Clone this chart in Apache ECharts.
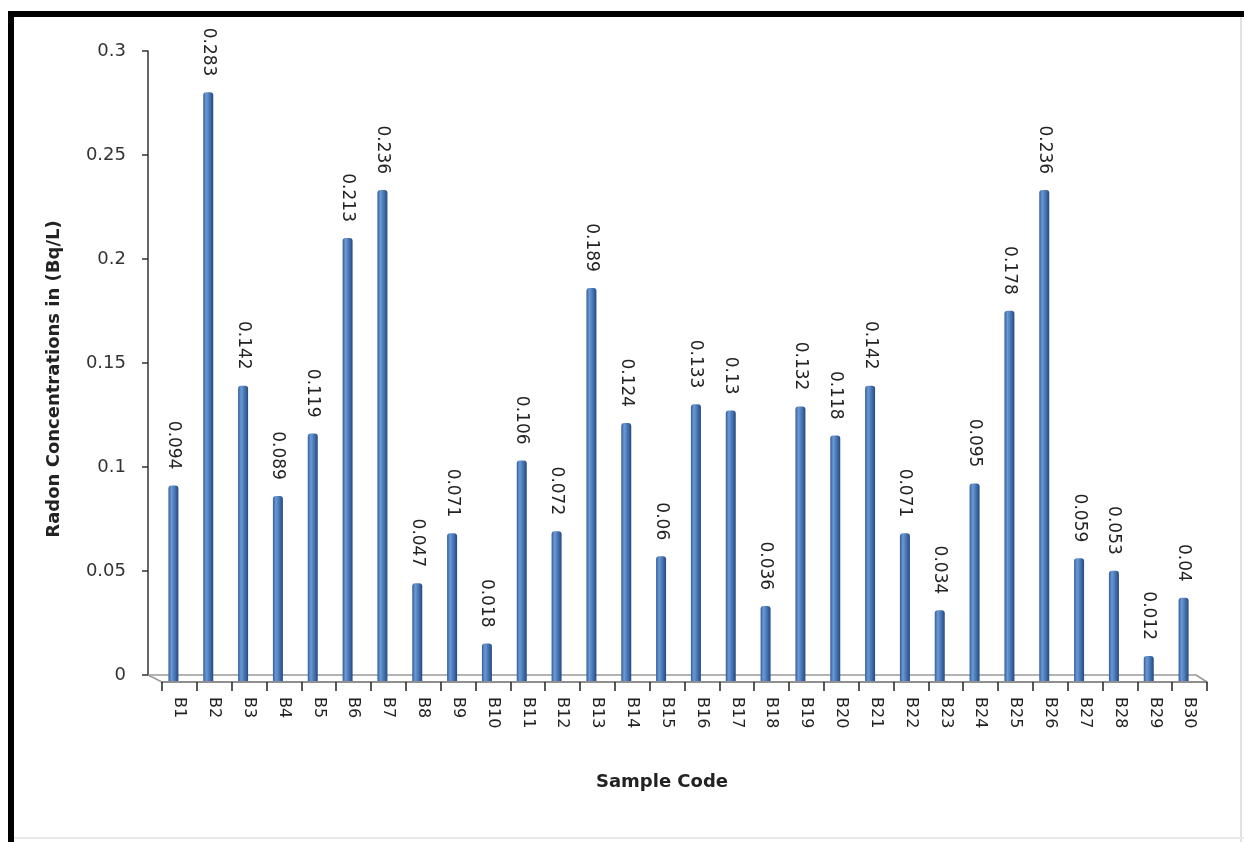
<!DOCTYPE html>
<html>
<head>
<meta charset="utf-8">
<script src="https://cdn.jsdelivr.net/npm/echarts@6/dist/echarts.min.js"></script>
<style>
html,body{margin:0;padding:0;background:#fff;}
#c{width:1244px;height:842px;}
</style>
</head>
<body>
<div id="c"></div>
<script>
const categories = ['B1','B2','B3','B4','B5','B6','B7','B8','B9','B10','B11','B12','B13','B14','B15','B16','B17','B18','B19','B20','B21','B22','B23','B24','B25','B26','B27','B28','B29','B30'];
const radonValues = [0.094,0.283,0.142,0.089,0.119,0.213,0.236,0.047,0.071,0.018,0.106,0.072,0.189,0.124,0.06,0.133,0.13,0.036,0.132,0.118,0.142,0.071,0.034,0.095,0.178,0.236,0.059,0.053,0.012,0.04];
const yTicks = { min: 0, max: 0.3, interval: 0.05 };
const yTitle = 'Radon Concentrations in (Bq/L)';
const xTitle = 'Sample Code';

const W = 1244, H = 842;
// back plane (visible y axis)
const backL = 148, backR = 1196, backTop = 51, backBottom = 675;
// bar plane (mid depth)
const barL = 156, barR = 1201, barTop = 57, barBottom = 681;
// front edge of floor
const frontL = 162, frontR = 1207, frontY = 682;

const FONT = 'DejaVu Sans';
const floorColor = '#9a9a9a';

const chart = echarts.init(document.getElementById('c'), null, {renderer: 'canvas'});
const option = {
  animation: false,
  backgroundColor: '#ffffff',
  textStyle: { fontFamily: FONT },
  grid: [
    { left: backL, right: W - backR, top: backTop, bottom: H - backBottom },
    { left: barL, right: W - barR, top: barTop, bottom: H - barBottom },
    { left: frontL, right: W - frontR, top: backTop, bottom: H - frontY }
  ],
  xAxis: [
    { gridIndex: 0, type: 'category', data: categories,
      axisLine: { show: true, lineStyle: { color: floorColor, width: 1.5 } },
      axisTick: { show: false }, axisLabel: { show: false }, splitLine: { show: false } },
    { gridIndex: 1, type: 'category', data: categories, show: false },
    { gridIndex: 2, type: 'category', data: categories,
      axisLine: { show: true, lineStyle: { color: '#6b6b6b', width: 1.5 } },
      axisTick: { show: true, length: 9, lineStyle: { color: '#222', width: 1.5 } },
      axisLabel: { show: true, rotate: -90, margin: 15, fontSize: 16, color: '#222', fontFamily: FONT, interval: 0 } }
  ],
  yAxis: [
    { gridIndex: 0, type: 'value', min: yTicks.min, max: yTicks.max, interval: yTicks.interval,
      axisLine: { show: true, lineStyle: { color: '#333', width: 1.5 } },
      axisTick: { show: true, length: 6, lineStyle: { color: '#333', width: 1.5 } },
      axisLabel: { margin: 22, fontSize: 18, color: '#333', fontFamily: FONT,
        formatter: v => String(+v.toFixed(2)) },
      splitLine: { show: false } },
    { gridIndex: 1, type: 'value', min: yTicks.min, max: yTicks.max, interval: yTicks.interval, show: false, splitLine: { show: false } },
    { gridIndex: 2, type: 'value', min: yTicks.min, max: yTicks.max, show: false, splitLine: { show: false } }
  ],
  series: [{
    type: 'bar',
    xAxisIndex: 1, yAxisIndex: 1,
    data: radonValues,
    barWidth: 10,
    itemStyle: {
      borderRadius: [3, 3, 0, 0],
      color: new echarts.graphic.LinearGradient(0, 0, 1, 0, [
        { offset: 0, color: '#355d98' },
        { offset: 0.3, color: '#6b99d4' },
        { offset: 0.65, color: '#4473b3' },
        { offset: 1, color: '#27487c' }
      ])
    },
    label: {
      show: true, position: 'top', distance: 16, rotate: -90,
      align: 'right', verticalAlign: 'middle',
      fontSize: 17, color: '#222', fontFamily: FONT,
      formatter: p => String(p.value)
    }
  }],
  graphic: [
    // frame
    { type: 'rect', shape: { x: 8, y: 11, width: W - 8, height: 6 }, style: { fill: '#000' }, silent: true },
    { type: 'rect', shape: { x: 8, y: 11, width: 6, height: H - 11 }, style: { fill: '#000' }, silent: true },
    { type: 'line', shape: { x1: W - 3, y1: 17, x2: W - 3, y2: H }, style: { stroke: '#e2e2e2', lineWidth: 2 }, silent: true },
    { type: 'line', shape: { x1: 14, y1: H - 4, x2: W, y2: H - 4 }, style: { stroke: '#e8e8e8', lineWidth: 2 }, silent: true },
    // floor sides
    { type: 'line', shape: { x1: backL, y1: backBottom, x2: frontL, y2: frontY }, style: { stroke: floorColor, lineWidth: 1.5 }, silent: true },
    { type: 'line', shape: { x1: backR, y1: backBottom, x2: frontR, y2: frontY }, style: { stroke: floorColor, lineWidth: 1.5 }, silent: true },
    // titles
    { type: 'text', x: 54, y: 379, rotation: Math.PI / 2,
      style: { text: yTitle, fontFamily: FONT, fontWeight: 'bold', fontSize: 18, fill: '#222', align: 'center', verticalAlign: 'middle' } },
    { type: 'text', x: 662, y: 782,
      style: { text: xTitle, fontFamily: FONT, fontWeight: 'bold', fontSize: 18, fill: '#222', align: 'center', verticalAlign: 'middle' } }
  ]
};
chart.setOption(option);
</script>
</body>
</html>
